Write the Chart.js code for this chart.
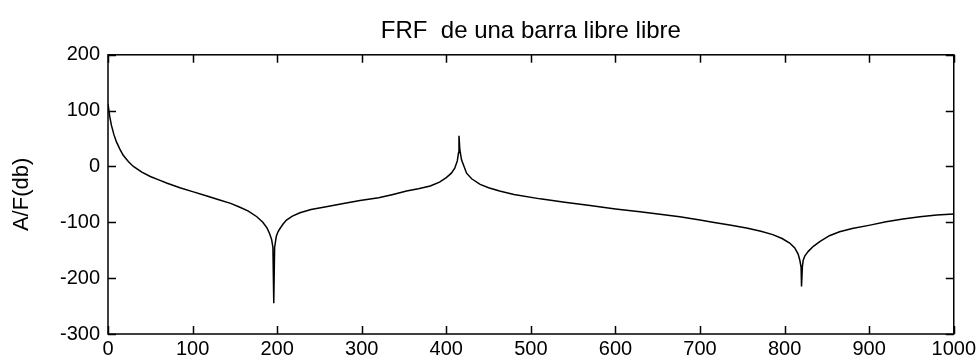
<!DOCTYPE html>
<html>
<head>
<meta charset="utf-8">
<script src="https://cdn.jsdelivr.net/npm/chart.js@4"></script>
<style>
  html, body { margin: 0; padding: 0; background: #fff; }
  #wrap { width: 979px; height: 364px; }
</style>
</head>
<body>
<div id="wrap"><canvas id="frfChart"></canvas></div>
<script>
// frecuencia (Hz) y amplitud A/F (dB)
const freq = [0, 2, 4, 7, 10, 14, 18, 24, 30, 40, 50, 60, 70, 85, 100, 115, 132, 145, 156, 166,
    176, 183, 188, 191, 193.5, 195, 196, 197, 199, 201, 203, 207, 211, 218, 227, 240, 258, 280,
    298, 320, 337, 353, 367, 381, 392, 400, 406, 410, 413, 414.5, 415, 416, 418, 421, 424, 430,
    440, 450, 463, 480, 511, 540, 570, 600, 629, 655, 676, 700, 715, 735, 755, 772, 786, 797,
    806, 812, 816, 818, 819.5, 820, 821, 822, 824, 828, 834, 842, 853, 865, 880, 901, 920, 940,
    960, 980, 1000];
const ampDb = [112, 90, 74, 57, 44, 31, 20, 9, 0, -10, -18, -24, -30, -38, -45, -52, -60, -66, -73, -80,
    -90, -100, -110, -120, -131, -145, -245, -145, -125, -117, -112, -103, -96, -89, -83, -77, -72, -66,
    -61, -56, -50, -44, -40, -35, -28, -20, -12, -3, 10, 25, 55, 30, 12, 0, -12, -22,
    -32, -38, -44, -50, -58, -64, -70, -76, -81, -86, -90, -96, -100, -105, -110, -116, -122, -129,
    -137, -146, -157, -168, -180, -215, -180, -168, -160, -152, -143, -134, -124, -117, -111, -105, -99, -94,
    -90, -87, -85];

const xTicks = [0, 100, 200, 300, 400, 500, 600, 700, 800, 900, 1000];
const yTicks = [-300, -200, -100, 0, 100, 200];

const FONT = '"Liberation Sans", Arial, sans-serif';
const TICK = 8;

// caja estilo matlab con marcas hacia dentro
const matlabBox = {
    id: 'matlabBox',
    afterDraw(chart) {
        const {ctx, chartArea: a, scales: {x, y}} = chart;
        ctx.save();
        ctx.strokeStyle = '#000';
        ctx.lineWidth = 1.5;
        ctx.beginPath();
        xTicks.forEach(v => {
            const px = Math.round(x.getPixelForValue(v)) + 0.5;
            ctx.moveTo(px, a.bottom);
            ctx.lineTo(px, a.bottom - TICK);
            ctx.moveTo(px, a.top);
            ctx.lineTo(px, a.top + TICK);
        });
        yTicks.forEach(v => {
            const py = Math.round(y.getPixelForValue(v)) + 0.5;
            ctx.moveTo(a.left, py);
            ctx.lineTo(a.left + TICK, py);
            ctx.moveTo(a.right, py);
            ctx.lineTo(a.right - TICK, py);
        });
        ctx.stroke();
        ctx.strokeRect(a.left, a.top, a.right - a.left, a.bottom - a.top);
        ctx.restore();
    }
};

const config = {
    type: 'line',
    data: {
        datasets: [{
            label: 'FRF',
            data: freq.map((f, i) => ({x: f, y: ampDb[i]})),
            borderColor: '#000',
            borderWidth: 1.5,
            pointRadius: 0,
            tension: 0,
            fill: false,
        }]
    },
    options: {
        responsive: true,
        maintainAspectRatio: false,
        animation: false,
        layout: {
            padding: {left: 0, right: 25, top: 0, bottom: 0}
        },
        plugins: {
            legend: {display: false},
            tooltip: {enabled: false},
            title: {
                display: true,
                fullSize: false,
                text: 'FRF  de una barra libre libre',
                color: '#000',
                padding: {top: 17, bottom: 9},
                font: {size: 24, family: FONT, weight: 'normal'},
            },
        },
        scales: {
            x: {
                type: 'linear',
                min: 0,
                max: 1000,
                grid: {display: false, drawTicks: false},
                border: {display: false},
                ticks: {
                    stepSize: 100,
                    color: '#000',
                    padding: 3,
                    maxRotation: 0,
                    font: {size: 20, family: FONT},
                    callback: v => String(v),
                },
                afterFit(scale) { scale.height = 30; },
            },
            y: {
                min: -300,
                max: 200,
                grid: {display: false, drawTicks: false},
                border: {display: false},
                ticks: {
                    stepSize: 100,
                    color: '#000',
                    padding: 8,
                    font: {size: 20, family: FONT},
                },
                title: {
                    display: true,
                    text: 'A/F(db)',
                    color: '#000',
                    padding: {top: 9, bottom: 0},
                    font: {size: 22, family: FONT},
                },
                afterFit(scale) { scale.width = 108; },
            }
        }
    },
    plugins: [matlabBox],
};

const frfChart = new Chart(document.getElementById('frfChart'), config);
</script>
</body>
</html>
